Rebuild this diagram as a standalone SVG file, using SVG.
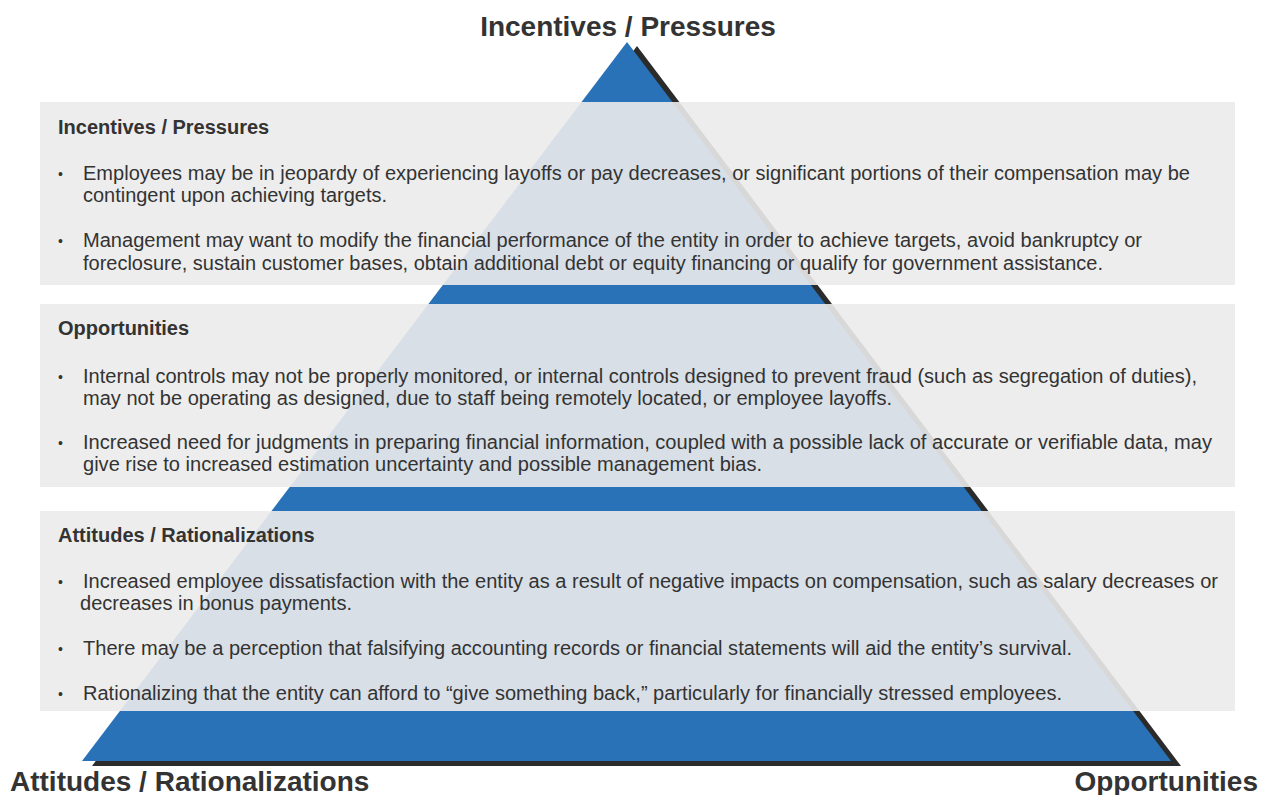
<svg xmlns="http://www.w3.org/2000/svg" width="1261" height="795" viewBox="0 0 1261 795">
<style>
.title{font-family:"Liberation Sans",Arial,sans-serif;font-weight:bold;font-size:28px;fill:#333333}
.hdr{font-family:"Liberation Sans",Arial,sans-serif;font-weight:bold;font-size:20px;fill:#333333}
.txt{font-family:"Liberation Sans",Arial,sans-serif;font-size:20px;fill:#333333}
.bul{font-family:"Liberation Sans",Arial,sans-serif;font-size:14px;fill:#333333}
.box{fill:#ebebeb;fill-opacity:0.9}
</style>
<rect width="1261" height="795" fill="#ffffff"/>
<g id="pyramid">
<polygon points="637,46 92,766 1181,766" fill="#2b2b2b"/>
<polygon points="627,42 82,761 1171,761" fill="#2a72b7"/>
</g>
<g id="titles">
<text class="title" x="628" y="36" text-anchor="middle">Incentives / Pressures</text>
<text class="title" x="10" y="791">Attitudes / Rationalizations</text>
<text class="title" x="1258" y="791" text-anchor="end">Opportunities</text>
</g>
<g id="box-incentives">
<rect class="box" x="40" y="102" width="1195" height="183"/>
<text class="hdr" x="58" y="134">Incentives / Pressures</text>
<text class="bul" x="58" y="179">•</text>
<text class="txt" x="83" y="180" textLength="1107" lengthAdjust="spacingAndGlyphs">Employees may be in jeopardy of experiencing layoffs or pay decreases, or significant portions of their compensation may be</text>
<text class="txt" x="83" y="202" textLength="304" lengthAdjust="spacingAndGlyphs">contingent upon achieving targets.</text>
<text class="bul" x="58" y="246">•</text>
<text class="txt" x="83" y="247" textLength="1059" lengthAdjust="spacingAndGlyphs">Management may want to modify the financial performance of the entity in order to achieve targets, avoid bankruptcy or</text>
<text class="txt" x="83" y="270" textLength="1020" lengthAdjust="spacingAndGlyphs">foreclosure, sustain customer bases, obtain additional debt or equity financing or qualify for government assistance.</text>
</g>
<g id="box-opportunities">
<rect class="box" x="40" y="304" width="1195" height="183"/>
<text class="hdr" x="58" y="335">Opportunities</text>
<text class="bul" x="58" y="382">•</text>
<text class="txt" x="83" y="383" textLength="1114" lengthAdjust="spacingAndGlyphs">Internal controls may not be properly monitored, or internal controls designed to prevent fraud (such as segregation of duties),</text>
<text class="txt" x="83" y="405" textLength="809" lengthAdjust="spacingAndGlyphs">may not be operating as designed, due to staff being remotely located, or employee layoffs.</text>
<text class="bul" x="58" y="448">•</text>
<text class="txt" x="83" y="449" textLength="1129" lengthAdjust="spacingAndGlyphs">Increased need for judgments in preparing financial information, coupled with a possible lack of accurate or verifiable data, may</text>
<text class="txt" x="83" y="471" textLength="679" lengthAdjust="spacingAndGlyphs">give rise to increased estimation uncertainty and possible management bias.</text>
</g>
<g id="box-attitudes">
<rect class="box" x="40" y="511" width="1195" height="200"/>
<text class="hdr" x="58" y="542">Attitudes / Rationalizations</text>
<text class="bul" x="58" y="587">•</text>
<text class="txt" x="83" y="588" textLength="1135" lengthAdjust="spacingAndGlyphs">Increased employee dissatisfaction with the entity as a result of negative impacts on compensation, such as salary decreases or</text>
<text class="txt" x="80" y="610" textLength="272" lengthAdjust="spacingAndGlyphs">decreases in bonus payments.</text>
<text class="bul" x="58" y="654">•</text>
<text class="txt" x="83" y="655" textLength="989" lengthAdjust="spacingAndGlyphs">There may be a perception that falsifying accounting records or financial statements will aid the entity’s survival.</text>
<text class="bul" x="58" y="699">•</text>
<text class="txt" x="83" y="700" textLength="979" lengthAdjust="spacingAndGlyphs">Rationalizing that the entity can afford to “give something back,” particularly for financially stressed employees.</text>
</g>
<g id="connectors"></g>
</svg>
